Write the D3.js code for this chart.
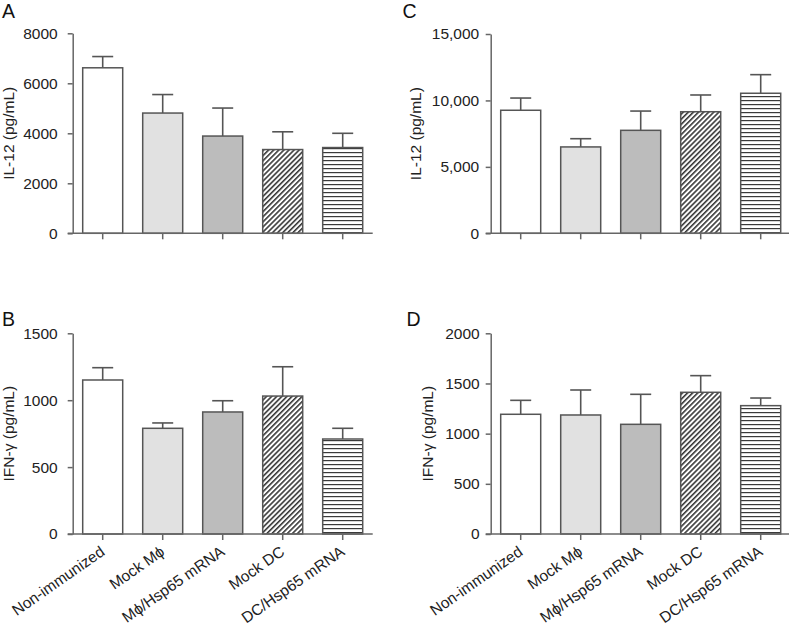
<!DOCTYPE html>
<html><head><meta charset="utf-8">
<script src="https://cdn.jsdelivr.net/npm/d3@7"></script>
<style>
body{margin:0;background:#fff;}
svg{display:block;font-family:"Liberation Sans",Arial,Helvetica,sans-serif;}
</style></head>
<body><svg id="chart" width="789" height="626"></svg>
<script>
const categories = ["Non-immunized","Mock M\u03D5","M\u03D5/Hsp65 mRNA","Mock DC","DC/Hsp65 mRNA"];
// Panel A: IL-12 (pg/mL)
const aMean = [6620, 4810, 3890, 3350, 3430];
const aErr  = [450, 740, 1120, 710, 570];
const aTicks = [0, 2000, 4000, 6000, 8000];
// Panel B: IFN-γ (pg/mL)
const bMean = [1151, 790, 912, 1031, 710];
const bErr  = [92, 40, 84, 219, 80];
const bTicks = [0, 500, 1000, 1500];
// Panel C: IL-12 (pg/mL)
const cMean = [9260, 6500, 7750, 9150, 10540];
const cErr  = [920, 620, 1450, 1260, 1400];
const cTicks = [0, 5000, 10000, 15000];
// Panel D: IFN-γ (pg/mL)
const dMean = [1193, 1186, 1093, 1412, 1279];
const dErr  = [139, 249, 299, 166, 76];
const dTicks = [0, 500, 1000, 1500, 2000];

const fills = ["#ffffff", "#e1e1e1", "#bcbcbc", "url(#diag)", "url(#horiz)"];
const ink = "#555";
const axisInk = "#666";

const svg = d3.select("#chart");
const defs = svg.append("defs");
const pd = defs.append("pattern").attr("id","diag").attr("patternUnits","userSpaceOnUse")
  .attr("width",3.6).attr("height",3.6).attr("patternTransform","rotate(45)");
pd.append("rect").attr("width",3.6).attr("height",3.6).attr("fill","#fff");
pd.append("line").attr("x1",0.8).attr("y1",0).attr("x2",0.8).attr("y2",3.6).attr("stroke","#2a2a2a").attr("stroke-width",1.5);
const ph = defs.append("pattern").attr("id","horiz").attr("patternUnits","userSpaceOnUse")
  .attr("width",8).attr("height",4);
ph.append("rect").attr("width",8).attr("height",4).attr("fill","#fff");
ph.append("line").attr("x1",0).attr("y1",0.6).attr("x2",8).attr("y2",0.6).attr("stroke","#3a3a3a").attr("stroke-width",1.2);

const panels = [
  {letter:"A", lx:2, ly:17.5, mean:aMean, err:aErr, ticks:aTicks, max:8000, x0:72.7, yTop:33.3, yBot:233.3, title:"IL-12 (pg/mL)", tx:14, fmt:d3.format("d"), pad:10, labels:false},
  {letter:"C", lx:402.5, ly:17.5, mean:cMean, err:cErr, ticks:cTicks, max:15000, x0:490.7, yTop:34, yBot:233.3, title:"IL-12 (pg/mL)", tx:421, fmt:d3.format(","), pad:6.5, labels:false},
  {letter:"B", lx:2, ly:325.5, mean:bMean, err:bErr, ticks:bTicks, max:1500, x0:72.7, yTop:333.3, yBot:534, title:"IFN-\u03B3 (pg/mL)", tx:14, fmt:d3.format("d"), pad:10, labels:true},
  {letter:"D", lx:406.5, ly:325.5, mean:dMean, err:dErr, ticks:dTicks, max:2000, x0:490.7, yTop:333.3, yBot:534, title:"IFN-\u03B3 (pg/mL)", tx:433, fmt:d3.format("d"), pad:6, labels:true}
];

panels.forEach(p => {
  const g = svg.append("g");
  const x = d3.scaleBand().domain(categories).range([p.x0, p.x0 + 300]).paddingInner(1/3).paddingOuter(1/6);
  const y = d3.scaleLinear().domain([0, p.max]).range([p.yBot, p.yTop]);

  svg.append("text").attr("x", p.lx).attr("y", p.ly).attr("font-size", 19.5).attr("fill","#111").text(p.letter);

  svg.append("text").attr("transform", `translate(${p.tx},${(p.yTop+p.yBot)/2}) rotate(-90)`)
    .attr("text-anchor","middle").attr("font-size",15.5).attr("fill","#222").text(p.title);

  const data = categories.map((c,i)=>({c, m:p.mean[i], e:p.err[i], f:fills[i]}));
  g.selectAll(".eb").data(data).enter().append("line")
    .attr("x1", d=>x(d.c)+x.bandwidth()/2).attr("x2", d=>x(d.c)+x.bandwidth()/2)
    .attr("y1", d=>y(d.m)).attr("y2", d=>y(d.m+d.e)).attr("stroke", ink).attr("stroke-width",1.6);
  g.selectAll(".ec").data(data).enter().append("line")
    .attr("x1", d=>x(d.c)+x.bandwidth()/2-10.5).attr("x2", d=>x(d.c)+x.bandwidth()/2+10.5)
    .attr("y1", d=>y(d.m+d.e)).attr("y2", d=>y(d.m+d.e)).attr("stroke", ink).attr("stroke-width",1.6);
  g.selectAll(".bar").data(data).enter().append("rect")
    .attr("x", d=>x(d.c)).attr("width", x.bandwidth())
    .attr("y", d=>y(d.m)).attr("height", d=>y(0)-y(d.m))
    .attr("fill", d=>d.f).attr("stroke", ink).attr("stroke-width",1.5);

  const ya = g.append("g").attr("transform",`translate(${p.x0},0)`)
    .call(d3.axisLeft(y).tickValues(p.ticks).tickFormat(p.fmt).tickSize(5).tickPadding(p.pad).tickSizeOuter(0));
  ya.select(".domain").attr("stroke", axisInk).attr("stroke-width",1.5);
  ya.selectAll(".tick line").attr("stroke", axisInk).attr("stroke-width",1.5);
  ya.selectAll(".tick text").attr("font-size",15.5).attr("fill","#222").attr("font-family",null);

  const xa = g.append("g").attr("transform",`translate(0,${p.yBot})`)
    .call(d3.axisBottom(x).tickSize(6).tickSizeOuter(0).tickFormat(p.labels ? (d=>d) : ""));
  xa.select(".domain").attr("stroke", axisInk).attr("stroke-width",1.5)
    .attr("d", `M${p.x0-5},0H${p.x0+300}`);
  xa.selectAll(".tick line").attr("stroke", axisInk).attr("stroke-width",1.5);
  if (p.labels) {
    xa.selectAll(".tick text").attr("font-size",15.5).attr("fill","#222").attr("font-family",null)
      .attr("text-anchor","end").attr("dy",0).attr("y",0)
      .attr("transform","translate(3,20) rotate(-35)");
  } else {
    xa.selectAll(".tick text").remove();
  }
});
</script></body></html>
